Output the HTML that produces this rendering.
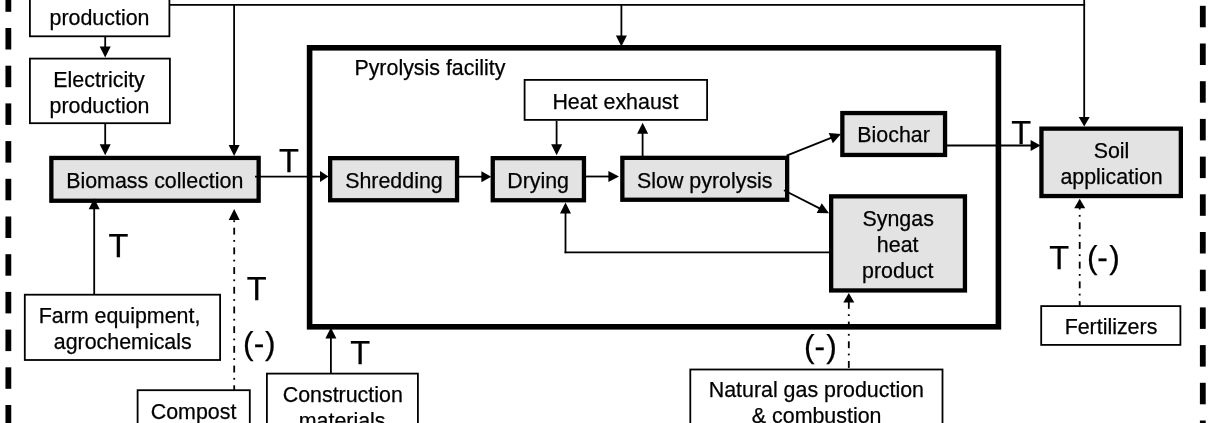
<!DOCTYPE html>
<html><head><meta charset="utf-8"><style>
html,body{margin:0;padding:0;background:#fff;width:1210px;height:423px;overflow:hidden}
svg{display:block;will-change:transform}
text{font-family:"Liberation Sans",sans-serif;fill:#000;stroke:#000;stroke-width:0.25px}
</style></head><body>
<svg width="1210" height="423" viewBox="0 0 1210 423">
<rect width="1210" height="423" fill="#fff"/>
<rect x="5.45" y="-47.40" width="5.8" height="21.5" fill="#000"/>
<rect x="5.45" y="-9.70" width="5.8" height="21.5" fill="#000"/>
<rect x="5.45" y="28.00" width="5.8" height="21.5" fill="#000"/>
<rect x="5.45" y="65.70" width="5.8" height="21.5" fill="#000"/>
<rect x="5.45" y="103.40" width="5.8" height="21.5" fill="#000"/>
<rect x="5.45" y="141.10" width="5.8" height="21.5" fill="#000"/>
<rect x="5.45" y="178.80" width="5.8" height="21.5" fill="#000"/>
<rect x="5.45" y="216.50" width="5.8" height="21.5" fill="#000"/>
<rect x="5.45" y="254.20" width="5.8" height="21.5" fill="#000"/>
<rect x="5.45" y="291.90" width="5.8" height="21.5" fill="#000"/>
<rect x="5.45" y="329.60" width="5.8" height="21.5" fill="#000"/>
<rect x="5.45" y="367.30" width="5.8" height="21.5" fill="#000"/>
<rect x="5.45" y="405.00" width="5.8" height="21.5" fill="#000"/>
<rect x="1199.90" y="-69.60" width="5.8" height="21.5" fill="#000"/>
<rect x="1199.90" y="-31.90" width="5.8" height="21.5" fill="#000"/>
<rect x="1199.90" y="5.80" width="5.8" height="21.5" fill="#000"/>
<rect x="1199.90" y="43.50" width="5.8" height="21.5" fill="#000"/>
<rect x="1199.90" y="81.20" width="5.8" height="21.5" fill="#000"/>
<rect x="1199.90" y="118.90" width="5.8" height="21.5" fill="#000"/>
<rect x="1199.90" y="156.60" width="5.8" height="21.5" fill="#000"/>
<rect x="1199.90" y="194.30" width="5.8" height="21.5" fill="#000"/>
<rect x="1199.90" y="232.00" width="5.8" height="21.5" fill="#000"/>
<rect x="1199.90" y="269.70" width="5.8" height="21.5" fill="#000"/>
<rect x="1199.90" y="307.40" width="5.8" height="21.5" fill="#000"/>
<rect x="1199.90" y="345.10" width="5.8" height="21.5" fill="#000"/>
<rect x="1199.90" y="382.80" width="5.8" height="21.5" fill="#000"/>
<rect x="1199.90" y="420.50" width="5.8" height="21.5" fill="#000"/>
<line x1="169.20" y1="4.80" x2="1085.10" y2="4.80" stroke="#000" stroke-width="1.8"/>
<line x1="234.10" y1="4.80" x2="234.10" y2="146.00" stroke="#000" stroke-width="1.8"/>
<polygon points="234.10,156.00 228.60,145.00 239.60,145.00" fill="#000"/>
<line x1="621.40" y1="4.80" x2="621.40" y2="36.50" stroke="#000" stroke-width="1.8"/>
<polygon points="621.40,46.50 615.90,35.50 626.90,35.50" fill="#000"/>
<line x1="1084.20" y1="-5.00" x2="1084.20" y2="118.10" stroke="#000" stroke-width="1.8"/>
<polygon points="1084.20,126.60 1078.70,117.10 1089.70,117.10" fill="#000"/>
<rect x="29.90" y="-39.10" width="139.50" height="75.40" fill="#fff" stroke="#000" stroke-width="1.8"/>
<rect x="29.90" y="58.60" width="140.00" height="64.60" fill="#fff" stroke="#000" stroke-width="1.8"/>
<rect x="524.60" y="79.90" width="182.50" height="40.00" fill="#fff" stroke="#000" stroke-width="1.8"/>
<rect x="24.80" y="294.70" width="195.30" height="65.30" fill="#fff" stroke="#000" stroke-width="1.8"/>
<rect x="1041.20" y="306.10" width="139.20" height="38.80" fill="#fff" stroke="#000" stroke-width="1.8"/>
<rect x="137.60" y="390.20" width="112.20" height="68.90" fill="#fff" stroke="#000" stroke-width="1.8"/>
<rect x="266.90" y="373.60" width="151.00" height="85.50" fill="#fff" stroke="#000" stroke-width="1.8"/>
<rect x="690.30" y="369.50" width="252.20" height="89.60" fill="#fff" stroke="#000" stroke-width="1.8"/>
<rect x="309.60" y="47.80" width="688.80" height="279.00" fill="none" stroke="#000" stroke-width="5.6"/>
<rect x="51.35" y="157.95" width="207.30" height="42.80" fill="#e3e3e3" stroke="#000" stroke-width="4.3"/>
<rect x="330.15" y="158.15" width="126.90" height="42.10" fill="#e3e3e3" stroke="#000" stroke-width="4.3"/>
<rect x="492.75" y="158.15" width="91.20" height="42.10" fill="#e3e3e3" stroke="#000" stroke-width="4.3"/>
<rect x="622.35" y="157.85" width="164.80" height="41.90" fill="#e3e3e3" stroke="#000" stroke-width="4.3"/>
<rect x="842.35" y="113.05" width="102.70" height="41.90" fill="#e3e3e3" stroke="#000" stroke-width="4.3"/>
<rect x="831.15" y="196.35" width="133.80" height="94.10" fill="#e3e3e3" stroke="#000" stroke-width="4.3"/>
<rect x="1041.45" y="128.65" width="139.40" height="67.40" fill="#e3e3e3" stroke="#000" stroke-width="4.3"/>
<line x1="105.20" y1="37.00" x2="105.20" y2="47.50" stroke="#000" stroke-width="1.8"/>
<polygon points="105.20,57.50 99.70,46.50 110.70,46.50" fill="#000"/>
<line x1="105.20" y1="124.00" x2="105.20" y2="145.30" stroke="#000" stroke-width="1.8"/>
<polygon points="105.20,155.30 99.70,144.30 110.70,144.30" fill="#000"/>
<line x1="255.00" y1="176.60" x2="321.00" y2="176.60" stroke="#000" stroke-width="1.8"/>
<polygon points="328.50,176.60 320.00,182.10 320.00,171.10" fill="#000"/>
<line x1="459.00" y1="176.70" x2="482.40" y2="176.70" stroke="#000" stroke-width="1.8"/>
<polygon points="491.20,176.70 481.40,182.20 481.40,171.20" fill="#000"/>
<line x1="586.00" y1="176.50" x2="609.40" y2="176.50" stroke="#000" stroke-width="1.8"/>
<polygon points="619.00,176.50 608.40,182.00 608.40,171.00" fill="#000"/>
<line x1="556.60" y1="120.80" x2="556.60" y2="145.20" stroke="#000" stroke-width="1.8"/>
<polygon points="556.60,155.20 551.10,144.20 562.10,144.20" fill="#000"/>
<line x1="642.60" y1="156.00" x2="642.60" y2="132.80" stroke="#000" stroke-width="1.8"/>
<polygon points="642.60,122.80 648.10,133.80 637.10,133.80" fill="#000"/>
<line x1="786.60" y1="155.70" x2="831.71" y2="137.71" stroke="#000" stroke-width="1.8"/>
<polygon points="841.00,134.00 832.82,143.18 828.75,132.97" fill="#000"/>
<line x1="784.00" y1="190.20" x2="820.10" y2="208.65" stroke="#000" stroke-width="1.8"/>
<polygon points="829.00,213.20 816.70,213.09 821.71,203.30" fill="#000"/>
<line x1="829.00" y1="252.30" x2="564.60" y2="252.30" stroke="#000" stroke-width="1.8"/>
<line x1="565.50" y1="253.20" x2="565.50" y2="212.50" stroke="#000" stroke-width="1.8"/>
<polygon points="565.50,202.50 571.00,213.50 560.00,213.50" fill="#000"/>
<line x1="947.00" y1="145.50" x2="1031.60" y2="145.50" stroke="#000" stroke-width="1.8"/>
<polygon points="1040.60,145.50 1030.60,151.00 1030.60,140.00" fill="#000"/>
<line x1="94.20" y1="294.00" x2="94.20" y2="208.20" stroke="#000" stroke-width="1.8"/>
<polygon points="94.20,198.20 99.70,209.20 88.70,209.20" fill="#000"/>
<rect x="233.30" y="220.30" width="1.8" height="1.80" fill="#000"/>
<rect x="233.30" y="227.70" width="1.8" height="6.90" fill="#000"/>
<rect x="233.30" y="240.00" width="1.8" height="1.80" fill="#000"/>
<rect x="233.30" y="247.40" width="1.8" height="6.90" fill="#000"/>
<rect x="233.30" y="259.70" width="1.8" height="1.80" fill="#000"/>
<rect x="233.30" y="267.10" width="1.8" height="6.90" fill="#000"/>
<rect x="233.30" y="279.40" width="1.8" height="1.80" fill="#000"/>
<rect x="233.30" y="286.80" width="1.8" height="6.90" fill="#000"/>
<rect x="233.30" y="299.10" width="1.8" height="1.80" fill="#000"/>
<rect x="233.30" y="306.50" width="1.8" height="6.90" fill="#000"/>
<rect x="233.30" y="318.80" width="1.8" height="1.80" fill="#000"/>
<rect x="233.30" y="326.20" width="1.8" height="6.90" fill="#000"/>
<rect x="233.30" y="338.50" width="1.8" height="1.80" fill="#000"/>
<rect x="233.30" y="345.90" width="1.8" height="6.90" fill="#000"/>
<rect x="233.30" y="358.20" width="1.8" height="1.80" fill="#000"/>
<rect x="233.30" y="365.60" width="1.8" height="6.90" fill="#000"/>
<rect x="233.30" y="377.90" width="1.8" height="1.80" fill="#000"/>
<rect x="233.30" y="385.30" width="1.8" height="4.70" fill="#000"/>
<polygon points="234.20,209.00 239.70,220.00 228.70,220.00" fill="#000"/>
<line x1="330.90" y1="373.00" x2="330.90" y2="337.60" stroke="#000" stroke-width="1.8"/>
<polygon points="330.90,327.60 336.40,338.60 325.40,338.60" fill="#000"/>
<rect x="847.90" y="301.90" width="1.8" height="6.90" fill="#000"/>
<rect x="847.90" y="314.20" width="1.8" height="1.80" fill="#000"/>
<rect x="847.90" y="321.60" width="1.8" height="6.90" fill="#000"/>
<rect x="847.90" y="333.90" width="1.8" height="1.80" fill="#000"/>
<rect x="847.90" y="341.30" width="1.8" height="6.90" fill="#000"/>
<rect x="847.90" y="353.60" width="1.8" height="1.80" fill="#000"/>
<rect x="847.90" y="361.00" width="1.8" height="6.90" fill="#000"/>
<polygon points="848.80,293.00 854.30,302.50 843.30,302.50" fill="#000"/>
<rect x="1078.80" y="208.00" width="1.8" height="1.50" fill="#000"/>
<rect x="1078.80" y="214.90" width="1.8" height="1.80" fill="#000"/>
<rect x="1078.80" y="222.30" width="1.8" height="6.90" fill="#000"/>
<rect x="1078.80" y="234.60" width="1.8" height="1.80" fill="#000"/>
<rect x="1078.80" y="242.00" width="1.8" height="6.90" fill="#000"/>
<rect x="1078.80" y="254.30" width="1.8" height="1.80" fill="#000"/>
<rect x="1078.80" y="261.70" width="1.8" height="6.90" fill="#000"/>
<rect x="1078.80" y="274.00" width="1.8" height="1.80" fill="#000"/>
<rect x="1078.80" y="281.40" width="1.8" height="6.90" fill="#000"/>
<rect x="1078.80" y="293.70" width="1.8" height="1.80" fill="#000"/>
<rect x="1078.80" y="301.10" width="1.8" height="4.40" fill="#000"/>
<polygon points="1079.70,198.80 1085.20,208.30 1074.20,208.30" fill="#000"/>
<text x="49.56" y="24.50" font-size="21.4">production</text>
<text x="53.29" y="86.50" font-size="21.4">Electricity</text>
<text x="49.56" y="112.80" font-size="21.4">production</text>
<text x="66.21" y="187.80" font-size="21.4">Biomass collection</text>
<text x="345.19" y="188.30" font-size="21.4">Shredding</text>
<text x="507.20" y="187.90" font-size="21.4">Drying</text>
<text x="637.02" y="188.00" font-size="21.4">Slow pyrolysis</text>
<text x="857.34" y="142.30" font-size="21.4">Biochar</text>
<text x="862.51" y="225.50" font-size="21.4">Syngas</text>
<text x="876.87" y="252.30" font-size="21.4">heat</text>
<text x="862.01" y="277.70" font-size="21.4">product</text>
<text x="1093.63" y="157.60" font-size="21.4">Soil</text>
<text x="1060.41" y="183.80" font-size="21.4">application</text>
<text x="1064.63" y="333.70" font-size="21.4">Fertilizers</text>
<text x="354.41" y="74.90" font-size="21.4">Pyrolysis facility</text>
<text x="552.38" y="108.50" font-size="21.4">Heat exhaust</text>
<text x="38.69" y="323.20" font-size="21.4">Farm equipment,</text>
<text x="53.81" y="348.60" font-size="21.4">agrochemicals</text>
<text x="150.75" y="419.00" font-size="21.4">Compost</text>
<text x="282.73" y="402.40" font-size="21.4">Construction</text>
<text x="298.76" y="427.90" font-size="21.4">materials</text>
<text x="708.71" y="396.90" font-size="21.4">Natural gas production</text>
<text x="751.84" y="423.10" font-size="21.4">&amp; combustion</text>
<text x="278.89" y="171.60" font-size="32.5">T</text>
<text x="108.39" y="257.30" font-size="32.5">T</text>
<text x="246.79" y="300.00" font-size="32.5">T</text>
<text x="350.19" y="364.40" font-size="32.5">T</text>
<text x="1049.19" y="268.70" font-size="32.5">T</text>
<text x="1011.19" y="144.00" font-size="32.5">T</text>
<text x="243.11" y="353.96" font-size="31.7">(</text>
<text x="265.09" y="353.96" font-size="31.7">)</text>
<text x="253.85" y="353.92" font-size="31.7">-</text>
<text x="803.91" y="356.76" font-size="31.7">(</text>
<text x="826.29" y="356.76" font-size="31.7">)</text>
<text x="814.60" y="357.22" font-size="31.7">-</text>
<text x="1086.91" y="267.76" font-size="31.7">(</text>
<text x="1109.29" y="267.76" font-size="31.7">)</text>
<text x="1097.25" y="267.72" font-size="31.7">-</text>
</svg>
</body></html>
